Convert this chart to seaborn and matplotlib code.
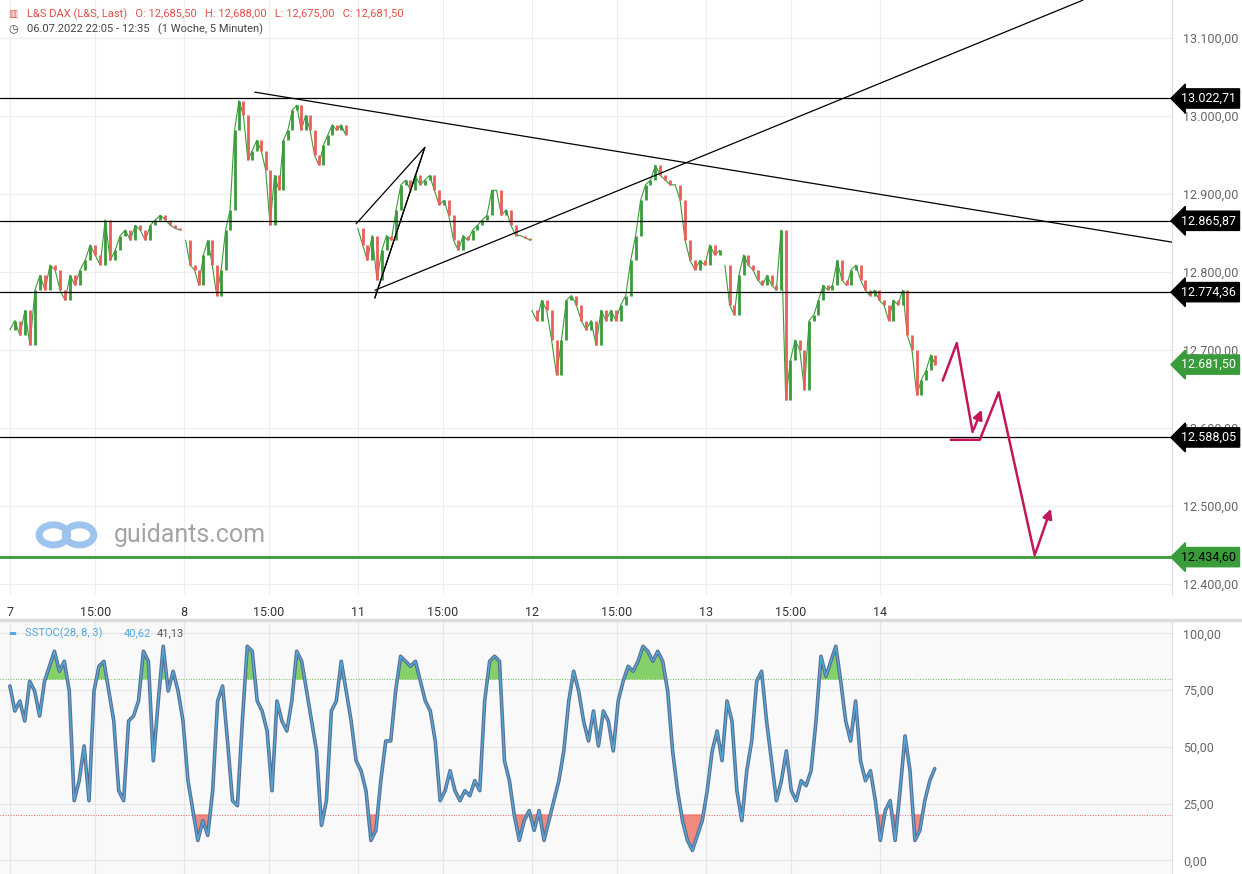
import numpy as np
import pandas as pd
import seaborn as sns
import matplotlib.pyplot as plt
from matplotlib.transforms import blended_transform_factory

sns.set_style("white")
plt.rcParams['font.family'] = ['Roboto', 'DejaVu Sans']

# --- price closes per session, x in "day units" (0 = Mon 7)
day7 = [12726, 12738, 12719, 12751, 12706, 12777, 12796, 12777, 12809, 12803, 12777, 12764, 12796, 12783,
        12803, 12815, 12835, 12822, 12809, 12867, 12815, 12828, 12847, 12854, 12841, 12860, 12854, 12841,
        12860, 12867, 12873, 12867, 12860, 12856, 12854]
day8 = [12841, 12809, 12803, 12783, 12822, 12841, 12809, 12770, 12803, 12854, 12880, 12982, 13020, 13001,
        12944, 12956, 12969, 12956, 12931, 12860, 12924, 12905, 12969, 12982, 13008, 13014, 12982, 13001,
        12982, 12950, 12937, 12963, 12976, 12989, 12982, 12989, 12976]
day11 = [12856, 12835, 12815, 12847, 12790, 12828, 12847, 12841, 12880, 12912, 12918, 12905, 12924, 12912,
         12918, 12924, 12905, 12886, 12892, 12873, 12841, 12828, 12847, 12841, 12854, 12860, 12867, 12873,
         12905, 12905, 12873, 12880, 12860, 12847, 12847, 12844, 12841]
day12 = [12751, 12738, 12764, 12751, 12713, 12668, 12713, 12764, 12770, 12758, 12738, 12726, 12738, 12706,
         12751, 12738, 12751, 12738, 12758, 12770, 12815, 12847, 12892, 12912, 12918, 12937, 12924, 12918,
         12912, 12912, 12892, 12841, 12815, 12803, 12815, 12809, 12835, 12822, 12828]
day13 = [12809, 12758, 12745, 12796, 12822, 12809, 12803, 12790, 12783, 12796, 12783, 12777, 12854, 12636,
         12687, 12713, 12700, 12649, 12738, 12745, 12764, 12783, 12777, 12783, 12815, 12790, 12783, 12803,
         12809, 12790, 12777, 12770, 12777, 12764, 12758, 12738, 12764, 12758, 12777, 12719, 12700, 12642,
         12662, 12674, 12694, 12681]
sessions = [(day7, 0.0, 0.98), (day8, 1.01, 1.93), (day11, 2.0, 2.99), (day12, 3.0, 4.08), (day13, 4.11, 5.32)]

levels_black = [13022.71, 12865.87, 12774.36, 12588.05]
level_green = 12434.60
last_price = 12681.50

# trend lines (day units, price)
trend_down = ([1.408, 6.68], [13030.8, 12838.5])
trend_up = ([2.098, 6.167], [12776.8, 13148.7])
flag = ([1.99, 2.385, 2.098], [12862, 12960, 12767])
proj1 = ([5.362, 5.443, 5.534, 5.592], [12661, 12709, 12595, 12627])
proj2 = ([5.408, 5.575, 5.684, 5.891, 5.989], [12585, 12585, 12646, 12437, 12500])

# stochastic values, evenly spaced from 0 to 5.316
stoch = [76.8, 65.8, 70.2, 61.4, 78.9, 74.6, 63.6, 78.9, 85.5, 92.1, 83.3, 87.7, 74.6, 26.3, 35.1, 50.4, 26.3,
         74.6, 85.5, 87.7, 74.6, 61.4, 30.7, 26.3, 61.4, 63.6, 70.2, 92.1, 87.7, 43.9, 70.2, 94.3, 74.6, 83.3,
         74.6, 61.4, 35.1, 21.9, 8.8, 17.5, 11.0, 30.7, 70.2, 76.8, 52.6, 26.3, 24.1, 61.4, 94.3, 92.1, 70.2,
         65.8, 57.0, 30.7, 70.2, 61.4, 57.0, 70.2, 92.1, 87.7, 74.6, 61.4, 48.2, 15.4, 26.3, 65.8, 70.2, 87.7,
         74.6, 61.4, 43.9, 39.5, 30.7, 8.8, 13.2, 35.1, 52.6, 52.6, 74.6, 89.9, 87.7, 85.5, 87.7, 78.9, 70.2,
         65.8, 52.6, 26.3, 30.7, 39.5, 30.7, 26.3, 30.7, 28.5, 35.1, 30.7, 70.2, 87.7, 89.9, 87.7, 43.9, 35.1,
         19.7, 8.8, 17.5, 21.9, 13.2, 21.9, 8.8, 17.5, 26.3, 35.1, 48.2, 70.2, 83.3, 74.6, 61.4, 52.6, 65.8,
         50.4, 65.8, 61.4, 48.2, 70.2, 78.9, 85.5, 83.3, 87.7, 94.3, 92.1, 87.7, 92.1, 87.7, 74.6, 48.2, 30.7,
         17.5, 8.8, 4.4, 11.0, 17.5, 30.7, 48.2, 57.0, 43.9, 70.2, 61.4, 30.7, 17.5, 39.5, 52.6, 78.9, 83.3,
         61.4, 43.9, 26.3, 35.1, 48.2, 30.7, 26.3, 35.1, 32.9, 39.5, 61.4, 89.9, 81.1, 87.7, 94.3, 78.9, 61.4,
         52.6, 70.2, 43.9, 35.1, 39.5, 26.3, 8.8, 21.9, 26.3, 8.8, 30.7, 54.8, 39.5, 8.8, 13.2, 26.3, 35.1, 40.4]

day_ticks = [0, 0.49, 1, 1.49, 2, 2.49, 3, 3.49, 4, 4.49, 5]
day_labels = ["7", "15:00", "8", "15:00", "11", "15:00", "12", "15:00", "13", "15:00", "14"]

GREEN = "#3a9b3a"
RED = "#e8605a"
MAG = "#c2185b"

fig = plt.figure(figsize=(12.42, 8.74), dpi=100)
W = 1172 / 1242
ax = fig.add_axes([0, 279 / 874, W, 595 / 874])
ax2 = fig.add_axes([0, 0, W, 252 / 874])
xlim = (-0.057, 6.68)

# ---- price panel
for d in day_ticks:
    ax.axvline(d, color="#eeeeee", lw=0.8, zorder=0)
for p in range(12400, 13200, 100):
    ax.axhline(p, color="#eeeeee", lw=0.8, zorder=0)

for closes, x0, x1 in sessions:
    xs = np.linspace(x0, x1, len(closes))
    c = np.array(closes, dtype=float)
    ax.plot(xs, c, color=GREEN, lw=0.8, zorder=2)
    prev = np.r_[c[0], c[:-1]]
    up = c >= prev
    ax.vlines(xs[up], prev[up], c[up], color=GREEN, lw=2.0, zorder=3)
    ax.vlines(xs[~up], prev[~up], c[~up], color=RED, lw=2.0, zorder=3)

for lv in levels_black:
    ax.axhline(lv, color="black", lw=0.9, zorder=4)
ax.axhline(level_green, color=GREEN, lw=2, zorder=4)

for xs, ys in [trend_down, trend_up, flag]:
    ax.plot(xs, ys, color="black", lw=0.9, zorder=4)
ax.plot([2.098, 2.385], [12767, 12960], color="black", lw=0.9)
for xs, ys in [proj1, proj2]:
    ax.plot(xs[:-1], ys[:-1], color=MAG, lw=1.8, zorder=5)
    ax.annotate("", xy=(xs[-1], ys[-1]), xytext=(xs[-2], ys[-2]),
                arrowprops=dict(arrowstyle="-|>", color=MAG, lw=1.8, mutation_scale=14), zorder=5)

ax.set_xlim(*xlim)
ax.set_ylim(12386, 13149)
ax.yaxis.tick_right()
ax.set_yticks(range(12400, 13200, 100))
ax.set_yticklabels([f"{p:,}".replace(",", ".") + ",00" for p in range(12400, 13200, 100)], color="#666666", fontsize=9)
ax.set_xticks(day_ticks)
ax.set_xticklabels(day_labels, color="#333333", fontsize=9)
ax.tick_params(length=0, pad=8)
for s in ["top", "left", "bottom"]:
    ax.spines[s].set_visible(False)
ax.spines["right"].set_color("#dddddd")


def de(v):
    return f"{v:,.2f}".replace(",", "X").replace(".", ",").replace("X", ".")


tr = blended_transform_factory(ax.transAxes, ax.transData)
for lv in levels_black:
    ax.text(1.008, lv, de(lv), transform=tr, color="white", fontsize=9, va="center", ha="left", zorder=10,
            bbox=dict(boxstyle="larrow,pad=0.25", fc="black", ec="black"))
for lv in [level_green, last_price]:
    ax.text(1.008, lv, de(lv), transform=tr, color="white" if lv == last_price else "black", fontsize=9,
            va="center", ha="left", zorder=10, bbox=dict(boxstyle="larrow,pad=0.25", fc=GREEN, ec=GREEN))

fig.text(0.022, 0.984, "L&S DAX (L&S, Last)   O: 12,685,50   H: 12,688,00   L: 12,675,00   C: 12,681,50",
         color="#e0504a", fontsize=8, va="center")
fig.text(0.022, 0.967, "06.07.2022 22:05 - 12:35   (1 Woche, 5 Minuten)", color="#444444", fontsize=8, va="center")
fig.text(0.0065, 0.984, "▥", color="#e0504a", fontsize=7, va="center")
fig.text(0.0065, 0.967, "◷", color="#444444", fontsize=8, va="center")
# watermark
for cx in [0.043, 0.064]:
    fig.patches.append(plt.Circle((cx, 0.388), 0.0115, transform=fig.transFigure, fill=False,
                                  ec="#9cc4ef", lw=5))
fig.text(0.092, 0.388, "guidants.com", color="#9a9a9a", fontsize=18, va="center", alpha=0.9)

# ---- stochastic panel
ax2.set_facecolor("#f9f9f9")
for d in day_ticks:
    ax2.axvline(d, color="#e6e6e6", lw=0.8, zorder=0)
for v in [0, 25, 50, 75, 100]:
    ax2.axhline(v, color="#e6e6e6", lw=0.8, zorder=0)
sx = np.linspace(0, 5.316, len(stoch))
sv = np.array(stoch)
df = pd.DataFrame({"t": sx, "k": sv})
ax2.fill_between(sx, 80, sv, where=sv > 80, interpolate=True, color="#86d06a", zorder=1)
ax2.fill_between(sx, 20, sv, where=sv < 20, interpolate=True, color="#f08a80", zorder=1)
ax2.axhline(80, color="#5cbf4a", lw=0.7, ls=":", zorder=2)
ax2.axhline(20, color="#e8605a", lw=0.7, ls=":", zorder=2)
sns.lineplot(data=df, x="t", y="k", ax=ax2, color="#5a6f90", lw=2.6, zorder=3)
sns.lineplot(data=df, x="t", y="k", ax=ax2, color="#52a8dc", lw=1.0, zorder=4)
ax2.set_xlim(*xlim)
ax2.set_ylim(-6, 105)
ax2.yaxis.tick_right()
ax2.set_yticks([0, 25, 50, 75, 100])
ax2.set_yticklabels(["0,00", "25,00", "50,00", "75,00", "100,00"], color="#666666", fontsize=9)
ax2.set_xticks([])
ax2.set_xlabel("")
ax2.set_ylabel("")
ax2.tick_params(length=0, pad=8)
for s in ["top", "left", "bottom"]:
    ax2.spines[s].set_visible(False)
ax2.spines["right"].set_color("#dddddd")
fig.add_artist(plt.Line2D([0, 1], [254 / 874, 254 / 874], color="#dddddd", lw=2.5))
fig.text(0.007, 0.275, "▬", color="#52a8dc", fontsize=6, va="center")
fig.text(0.02, 0.275, "SSTOC(28, 8, 3)", color="#52a8dc", fontsize=8, va="center")
fig.text(0.1, 0.275, "40,62", color="#52a8dc", fontsize=8, va="center")
fig.text(0.126, 0.275, "41,13", color="#555555", fontsize=8, va="center")

fig.savefig("out.png", dpi=100)
